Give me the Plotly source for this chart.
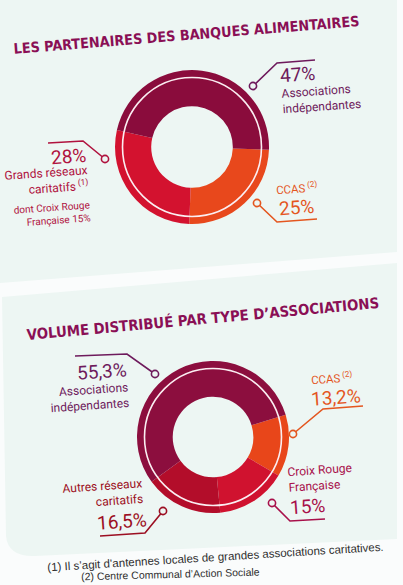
import plotly.graph_objects as go

W, H = 403, 585

# ---------------- data ----------------
labels1 = ["CCAS", "Grands réseaux caritatifs", "Associations indépendantes"]
values1 = [25, 28, 47]
colors1 = ["#e8481c", "#d3122f", "#8a0c3c"]

labels2 = ["CCAS", "Croix Rouge Française", "Autres réseaux caritatifs", "Associations indépendantes"]
values2 = [13.2, 15, 16.5, 55.3]
colors2 = ["#e8461a", "#d0122f", "#b30d2a", "#8c0e3e"]

title1 = "LES PARTENAIRES DES BANQUES ALIMENTAIRES"
title2 = "VOLUME DISTRIBUÉ PAR TYPE D’ASSOCIATIONS"
footnote1 = "(1) Il s’agit d’antennes locales de grandes associations caritatives."
footnote2 = "(2) Centre Communal d’Action Sociale"

PANEL = "#edf6f3"
PURPLE = "#6e1a5c"
MAG = "#b0123e"
ORANGE = "#e4561f"
CRIMSON = "#a8104a"
DRED = "#9c0f22"
TITLE = "#8a0f55"
NARROW = "Roboto, DejaVu Sans Condensed, sans-serif"
ANG = -4


def dom(cx, cy, r):
    return dict(x=[(cx - r) / W, (cx + r) / W], y=[(H - cy - r) / H, (H - cy + r) / H])


fig = go.Figure()
fig.add_trace(go.Pie(labels=labels1, values=values1, hole=0.53, sort=False, direction="clockwise",
                     rotation=92, textinfo="none", hoverinfo="label+percent",
                     marker=dict(colors=colors1, line=dict(width=0)),
                     domain=dom(192, 147, 77), showlegend=False))
fig.add_trace(go.Pie(labels=labels2, values=values2, hole=0.53, sort=False, direction="clockwise",
                     rotation=73, textinfo="none", hoverinfo="label+percent",
                     marker=dict(colors=colors2, line=dict(width=0)),
                     domain=dom(213, 437, 76), showlegend=False))

shapes = []
# panels
shapes.append(dict(type="path", path="M0,0 L397,0 L397,252 L0,283 Z",
                   fillcolor=PANEL, line=dict(width=0), layer="below", xref="x", yref="y"))
shapes.append(dict(type="path", path="M2,297 L397,263 L397,539 L35,556 Q8,557 6,536 Z",
                   fillcolor=PANEL, line=dict(width=0), layer="below", xref="x", yref="y"))

# white rings inside donuts
for cx, cy, r in [(192, 147, 69.5), (213, 437, 68.5)]:
    shapes.append(dict(type="circle", x0=cx - r, x1=cx + r, y0=cy - r, y1=cy + r,
                       line=dict(color="#fbeef2", width=1.6), layer="above", xref="x", yref="y"))

# leader lines
leaders = [
    ("M253,86 L277,63 L315,60", (253, 86), PURPLE),
    ("M48,143 L83,141 L105,159", (105, 159), MAG),
    ("M257,203 L277,222 L317,219", (257, 203), ORANGE),
    ("M75,356 L127,354 L155,374", (155, 374), PURPLE),
    ("M293,434 L323,409 L363,406", (293, 434), ORANGE),
    ("M272,503 L290,521 L325,519", (272, 503), CRIMSON),
    ("M163,511 L145,533 L100,536", (163, 511), DRED),
]
for p, (cx, cy), col in leaders:
    shapes.append(dict(type="path", path=p, line=dict(color=col, width=1.6), layer="above",
                       xref="x", yref="y"))
    rr = 3.6
    shapes.append(dict(type="circle", x0=cx - rr, x1=cx + rr, y0=cy - rr, y1=cy + rr,
                       fillcolor=PANEL, line=dict(color=col, width=1.6), layer="above",
                       xref="x", yref="y"))

ann = []


def t(x, y, text, size, color, align="center", family=NARROW, angle=ANG):
    ann.append(dict(x=x, y=y, xref="x", yref="y", text=text, showarrow=False,
                    font=dict(size=size, color=color, family=family),
                    align=align, xanchor="center", yanchor="middle", textangle=angle))


TF = "DejaVu Sans Condensed, Roboto, sans-serif"
t(186, 35, "<b>" + title1 + "</b>", 14.3, TITLE, family=TF, angle=-4.6)
t(203, 318, "<b>" + title2 + "</b>", 14.8, TITLE, family=TF, angle=-5.2)

t(297, 74, "47%", 19, PURPLE)
t(321, 99, "Associations<br>indépendantes", 12, PURPLE, align="left")
t(68, 156, "28%", 19, MAG)
t(46, 181, "Grands réseaux<br>caritatifs<sup> (1)</sup>", 12, MAG, align="right")
t(52, 214, "dont Croix Rouge<br>Française 15%", 10, MAG, align="right")
t(297, 188, "CCAS<sup> (2)</sup>", 11.5, ORANGE)
t(296, 207, "25%", 19, ORANGE)

t(102, 371, "55,3%", 19, PURPLE)
t(89, 398, "Associations<br>indépendantes", 12, PURPLE, align="right")
t(332, 378, "CCAS<sup> (2)</sup>", 11.5, ORANGE)
t(336, 397, "13,2%", 19, ORANGE)
t(320, 478, "Croix Rouge<br>Française", 12, CRIMSON, align="left")
t(307, 506, "15%", 19, CRIMSON)
t(103, 494, "Autres réseaux<br>caritatifs", 12, DRED, align="right")
t(122, 521, "16,5%", 19, DRED)

t(215, 557, footnote1, 11.5, "#2e2e2e", family="Liberation Sans, Arial, sans-serif", angle=-3.5)
t(170, 574, footnote2, 10.5, "#2e2e2e", family="Liberation Sans, Arial, sans-serif", angle=-1.5)

fig.update_layout(
    width=W, height=H, margin=dict(l=0, r=0, t=0, b=0),
    paper_bgcolor="#fafcfc", plot_bgcolor="rgba(0,0,0,0)",
    xaxis=dict(range=[0, W], visible=False, fixedrange=True),
    yaxis=dict(range=[H, 0], visible=False, fixedrange=True),
    shapes=shapes, annotations=ann, showlegend=False,
)

fig.write_html("out.html")
